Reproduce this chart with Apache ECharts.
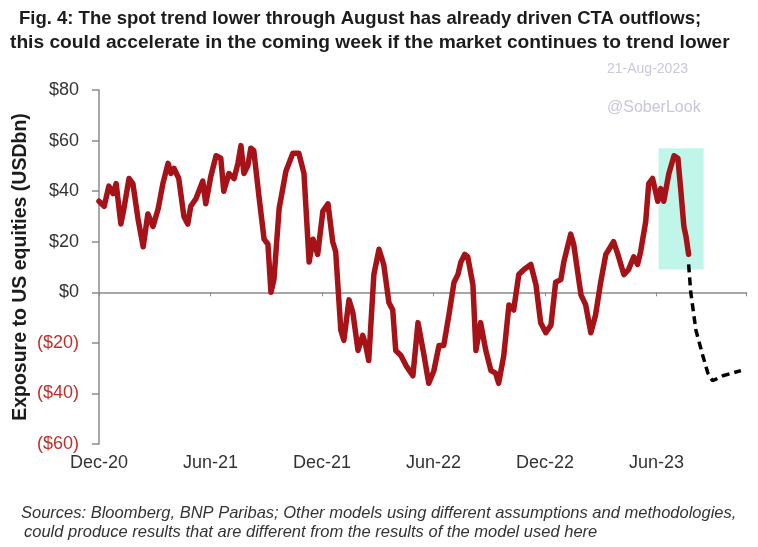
<!DOCTYPE html>
<html>
<head>
<meta charset="utf-8">
<script src="https://cdn.jsdelivr.net/npm/echarts@6/dist/echarts.min.js"></script>
<style>
html,body{margin:0;padding:0;background:#fff;}
#chart{width:758px;height:547px;}
</style>
</head>
<body>
<div id="chart"></div>
<script>
// ---- data (x in weeks since start of Dec-2020) ----
const weeks = [0,1.2,2.3,3.3,4,5.1,5.8,7,7.9,9.1,10.3,11.4,12.6,13.8,14.9,16.1,16.8,17.5,18.6,19.8,20.7,21.4,22.6,24.2,24.9,26.1,27.3,28.4,29.1,30.3,31.5,32.4,33.1,33.8,34.7,35.4,36.1,37.3,38.5,39.4,40.1,40.8,42,43.6,45.2,46.6,47.8,49,49.9,51,52.2,53.4,54.5,55.2,56.4,57.1,58.3,59.2,60.4,61.5,62.2,62.9,64.1,65.3,66.4,67.6,68.5,69.2,70.4,71.6,73.2,74.4,75.8,76.9,78.1,79.3,80.4,81.6,82.8,83.7,84.4,85.3,86,87.2,87.9,89,90.2,91.4,92.5,93.2,94.4,95.6,96.7,97.9,99.1,100.7,101.9,103,104.2,105.4,106.5,107.7,108.4,110,110.7,112.4,113.5,114.7,115.8,117,118.2,120,121,121.7,122.4,123.5,124.7,125.6,126.3,127.5,128.2,129.1,130.3,131,131.7,132.9,134.1,135,135.7,136.4,136.9,137.5];
const exposure = [36,34,42,39,43,27,33,45,43,29,18,31,26,33,43,51,47,49,45,30,27,34,37,44,35,46,54,53,40,47,45,51,58,47,50,57,56,38,21,19,0,5,33,48,55,55,47,12,21,15,32,35,20,16,-15,-19,-3,-8,-23,-17,-21,-27,7,17,11,-4,-7,-23,-25,-29,-33,-12,-25,-36,-31,-21,-21,-9,4,7,12,15,14,3,-23,-12,-23,-31,-32,-36,-25,-5,-7,7,9,11,3,-12,-16,-13,4,5,12,23,19,-1,-5,-16,-9,4,15,20,15,11,7,9,14,11,16,28,43,45,36,41,36,47,54,53,40,26,22,15];
const projWeeks = [137.5,138,139.2,140.8,142,143.1,145.5,149.7];
const projValues = [11,0,-15,-25,-32,-35,-33,-31];
const highlightWeeks = [130.5,141];
const highlightValues = [57,9];
const xTickLabels = ['Dec-20','Jun-21','Dec-21','Jun-22','Dec-22','Jun-23'];
const yTickLabels = ['($60)','($40)','($20)','$0','$20','$40','$60','$80'];

const FONT = '"Liberation Sans", Arial, sans-serif';
const chart = echarts.init(document.getElementById('chart'));
const pairs = (xs, ys) => xs.map((x, i) => [x, ys[i]]);

chart.setOption({
  animation: false,
  backgroundColor: '#ffffff',
  title: [
    {text: 'Fig. 4: The spot trend lower through August has already driven CTA outflows;', left: 19, top: 9, padding: 0,
     textStyle: {fontFamily: FONT, fontSize: 18.5, fontWeight: 'bold', color: '#1c1c1c'}},
    {text: 'this could accelerate in the coming week if the market continues to trend lower', left: 10, top: 33, padding: 0,
     textStyle: {fontFamily: FONT, fontSize: 19.2, fontWeight: 'bold', color: '#1c1c1c'}},
    {text: '21-Aug-2023', left: 607, top: 62, padding: 0,
     textStyle: {fontFamily: FONT, fontSize: 14, fontWeight: 'normal', color: '#c8c8de'}},
    {text: '@SoberLook', left: 607, top: 100, padding: 0,
     textStyle: {fontFamily: FONT, fontSize: 16, fontWeight: 'normal', color: '#c6c6dc'}},
    {text: 'Sources: Bloomberg, BNP Paribas; Other models using different assumptions and methodologies,', left: 21, top: 505, padding: 0,
     textStyle: {fontFamily: FONT, fontSize: 16.5, fontStyle: 'italic', fontWeight: 'normal', color: '#333'}},
    {text: 'could produce results that are different from the results of the model used here', left: 24, top: 524, padding: 0,
     textStyle: {fontFamily: FONT, fontSize: 16.5, fontStyle: 'italic', fontWeight: 'normal', color: '#333'}}
  ],
  grid: {left: 99, right: 11.5, top: 90, height: 354, containLabel: false, outerBoundsMode: 'none'},
  xAxis: [
    {type: 'value', min: 0, max: 151, interval: 26,
     axisLine: {show: true, onZero: true, lineStyle: {color: '#8a8a8a', width: 1.5}},
     axisTick: {show: true, length: 4, lineStyle: {color: '#8a8a8a', width: 1}},
     axisLabel: {show: false}, splitLine: {show: false}},
    {type: 'value', min: 0, max: 151, interval: 26, position: 'bottom',
     axisLine: {show: false, onZero: false}, axisTick: {show: false}, splitLine: {show: false},
     axisLabel: {show: true, margin: 10, fontFamily: FONT, fontSize: 18, color: '#333',
       formatter: v => xTickLabels[Math.round(v / 26)] || ''}}
  ],
  yAxis: {
    type: 'value', min: -60, max: 80, interval: 20,
    name: 'Exposure to US equities (USDbn)', nameLocation: 'middle', nameGap: 68, nameRotate: 90,
    nameMoveOverlap: false,
    nameTextStyle: {fontFamily: FONT, fontSize: 19.5, fontWeight: 'bold', color: '#1c1c1c'},
    axisLine: {show: true, lineStyle: {color: '#8a8a8a', width: 1.5}},
    axisTick: {show: true, length: 7, lineStyle: {color: '#8a8a8a', width: 1.5}},
    splitLine: {show: false},
    axisLabel: {margin: 20, fontFamily: FONT, fontSize: 18,
      formatter: v => yTickLabels[Math.round((v + 60) / 20)],
      color: v => (Number(v) < 0 ? '#c0302b' : '#333333')}
  },
  series: [
    {type: 'line', name: 'CTA exposure', xAxisIndex: 0, data: pairs(weeks, exposure),
     showSymbol: false, symbol: 'none', smooth: false, z: 3,
     lineStyle: {color: '#a51218', width: 5.5, join: 'round', cap: 'round'},
     markArea: {silent: true, itemStyle: {color: '#c0f6ea'},
       data: [[{xAxis: highlightWeeks[0], yAxis: highlightValues[0]}, {xAxis: highlightWeeks[1], yAxis: highlightValues[1]}]]}},
    {type: 'line', name: 'Projection', xAxisIndex: 0, data: pairs(projWeeks, projValues),
     showSymbol: false, symbol: 'none', smooth: false, z: 3,
     lineStyle: {color: '#000000', width: 3.5, type: [8, 5]}}
  ]
});
</script>
</body>
</html>
